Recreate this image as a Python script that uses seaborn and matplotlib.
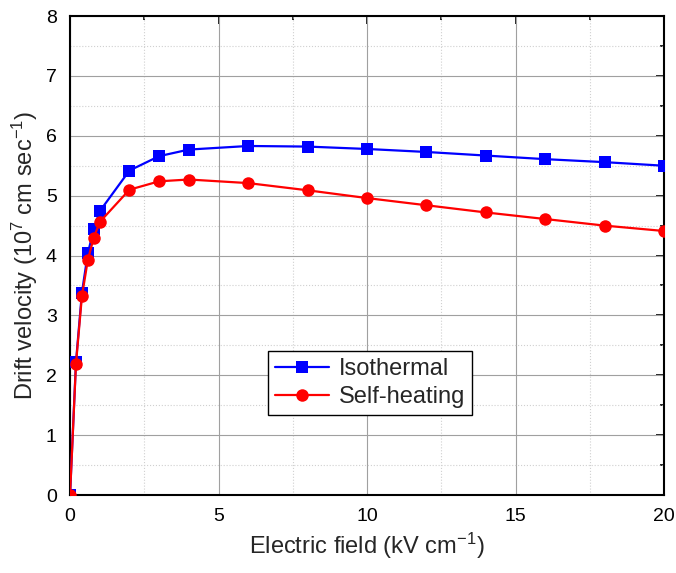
import pandas as pd
import matplotlib
matplotlib.use("Agg")
import matplotlib.pyplot as plt
import seaborn as sns
from matplotlib.ticker import MultipleLocator

field = [0, 0.2, 0.4, 0.6, 0.8, 1, 2, 3, 4, 6, 8, 10, 12, 14, 16, 18, 20]
iso = [0, 2.22, 3.38, 4.04, 4.44, 4.74, 5.42, 5.66, 5.77, 5.83, 5.82, 5.78, 5.73, 5.67, 5.61, 5.56, 5.50]
selfheat = [0, 2.19, 3.32, 3.93, 4.30, 4.56, 5.10, 5.24, 5.27, 5.21, 5.09, 4.96, 4.84, 4.72, 4.61, 4.50, 4.41]
labels = ["Isothermal", "Self-heating"]

df = pd.concat([
    pd.DataFrame({"field": field, "v": iso, "model": labels[0]}),
    pd.DataFrame({"field": field, "v": selfheat, "model": labels[1]}),
])

sns.set_style("white")
plt.rcParams["font.family"] = ["Liberation Sans", "DejaVu Sans"]
plt.rcParams["mathtext.default"] = "regular"

fig = plt.figure(figsize=(6.76, 5.73), dpi=100)
ax = fig.add_axes([0.1036, 0.136, 0.8787, 0.836])

sns.lineplot(data=df, x="field", y="v", hue="model", style="model",
             palette={labels[0]: "#0000ff", labels[1]: "#ff0000"},
             markers={labels[0]: "s", labels[1]: "o"}, dashes=False,
             markersize=9, linewidth=1.6, markeredgewidth=0, ax=ax, zorder=3)

ax.set_xlim(0, 20)
ax.set_ylim(0, 8)
ax.xaxis.set_major_locator(MultipleLocator(5))
ax.xaxis.set_minor_locator(MultipleLocator(2.5))
ax.yaxis.set_major_locator(MultipleLocator(1))
ax.yaxis.set_minor_locator(MultipleLocator(0.5))
ax.grid(which="major", color="#a0a0a0", linewidth=0.8)
ax.grid(which="minor", color="#d0d0d0", linestyle=":", linewidth=0.8)
ax.set_axisbelow(True)

for s in ax.spines.values():
    s.set_color("black")
    s.set_linewidth(1.5)

# left/bottom ticks point out, the mirrored top/right ones point in
ax.tick_params(which="both", direction="out", width=1.2, labelsize=14, colors="black",
               top=False, right=False)
ax.tick_params(which="major", length=6)
ax.tick_params(which="minor", length=3)
ax2 = ax.secondary_xaxis("top")
ay2 = ax.secondary_yaxis("right")
for sec in (ax2, ay2):
    sec.tick_params(which="both", direction="in", width=1.2, labelsize=0, colors="black")
    sec.tick_params(which="major", length=6)
    sec.tick_params(which="minor", length=3)
    sec.spines[:].set_visible(False)
ax2.xaxis.set_major_locator(MultipleLocator(5))
ax2.xaxis.set_minor_locator(MultipleLocator(2.5))
ay2.yaxis.set_major_locator(MultipleLocator(1))
ay2.yaxis.set_minor_locator(MultipleLocator(0.5))
ax2.set_xticklabels([])
ay2.set_yticklabels([])

ax.set_xlabel("Electric field (kV cm$^{-1}$)", fontsize=17)
ax.set_ylabel("Drift velocity (10$^{7}$ cm sec$^{-1}$)", fontsize=17)

leg = ax.legend(loc="lower left", bbox_to_anchor=(0.333, 0.167), borderaxespad=0,
                fontsize=17, frameon=True, fancybox=False, edgecolor="black",
                framealpha=1, handlelength=2.3, borderpad=0.3, labelspacing=0.25,
                handletextpad=0.4)
leg.get_frame().set_linewidth(1.0)

fig.savefig("out.png", dpi=100)
